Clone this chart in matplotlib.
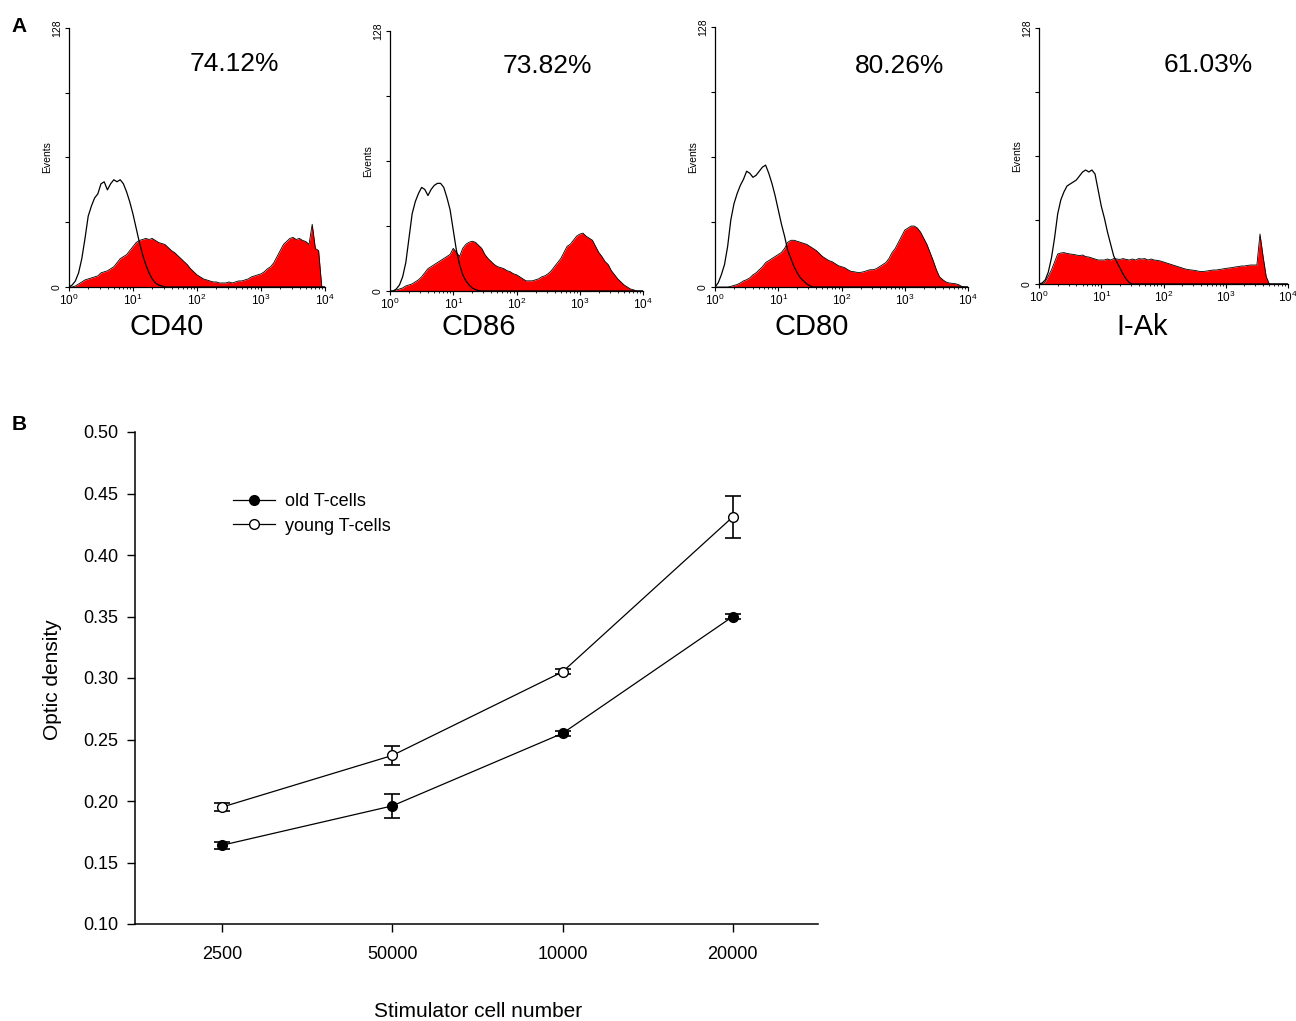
import numpy as np
import matplotlib
matplotlib.use("Agg")
import matplotlib.pyplot as plt
from matplotlib.ticker import LogLocator, NullFormatter

plt.rcParams['font.family'] = ['Liberation Sans', 'DejaVu Sans']
plt.rcParams['mathtext.fontset'] = 'custom'
plt.rcParams['mathtext.rm'] = 'Liberation Sans'

W, H = 1296, 1021

# ---- panel A data: flow histograms, heights read every 0.05 decade from 10^0 to 10^4
markers_a = ["CD40", "CD86", "CD80", "I-Ak"]
percent_a = ["74.12%", "73.82%", "80.26%", "61.03%"]

cd40_ctrl = [0, 1, 3, 7, 14, 24, 35, 40, 44, 46, 51, 52, 48, 51, 53, 52, 53, 51, 47, 42,
             36, 29, 22, 16, 11, 7, 4, 2, 1, 0.5, 0] + [0] * 50
cd40_pos = [0, 0, 0.5, 1.5, 2.5, 3.5, 4, 4.5, 5, 5.5,
            7, 7.5, 8, 9, 10, 12, 14, 15, 16, 18,
            20, 22, 23, 23.5, 24, 23.5, 24, 23, 22, 21.5,
            21, 19.5, 18, 17, 15.5, 14, 12.5, 11, 9, 7.5,
            6, 5, 4, 3.5, 3, 2.5, 2.5, 2, 2, 2,
            2.5, 2, 2.5, 3, 3, 3.5, 4, 5, 5.5, 6,
            6.5, 7.5, 9, 10, 12, 15, 18, 21, 22.5, 24,
            24.5, 23.5, 24, 23, 22.5, 21, 31, 19, 18, 0,
            0]

cd86_ctrl = [0, 0, 1, 3, 7, 14, 26, 38, 44, 48, 51, 50, 47, 50, 52, 53, 53, 51, 46, 40,
             30, 20, 13, 8, 5, 3, 1.5, 0.7, 0.2, 0] + [0] * 51
cd86_pos = [0, 0, 0.5, 1, 1.5, 2.5, 3, 3.5, 4.5, 5.5,
            7, 9, 11, 12, 13, 14, 15, 16, 17, 18,
            21, 19, 17, 21, 23, 24, 24.5, 24, 22.5, 21,
            18, 16, 14.5, 13, 12, 11.5, 11, 10, 9.5, 8.5,
            8, 7, 6, 5, 5, 5, 5.5, 6, 7, 7.5,
            8.5, 10, 12, 14, 16, 19, 22, 23, 25, 27,
            28, 28.5, 27, 26, 25, 22, 19, 17, 14.5, 13,
            10, 8, 6, 4.5, 3, 2, 1, 0.6, 0, 0,
            0]

cd80_ctrl = [0, 2, 6, 11, 20, 33, 41, 46, 50, 53, 57, 56, 54, 55, 57, 59, 60, 56, 51, 45,
             38, 31, 25, 18, 14, 10, 7, 4.5, 3, 1.5, 0.6, 0] + [0] * 49
cd80_pos = [0, 0, 0, 0, 0, 0.3, 0.8, 1.2, 2, 3,
            3.6, 4.5, 6, 7, 8.5, 10, 12, 13, 14, 15,
            16, 17, 19, 22, 23, 23, 22.5, 22, 21.5, 21,
            20, 19, 18, 16.5, 15, 14, 13, 12.5, 11.5, 10.5,
            10, 9.5, 8.5, 7.7, 7.5, 7.2, 7.2, 7.5, 8, 8.5,
            8.5, 9, 10, 11, 12, 14, 17, 19, 22, 25,
            28, 29, 30, 30, 29, 27, 24, 21, 17, 13,
            8.5, 5, 3.6, 2.5, 2, 1.8, 1.6, 1.2, 0.3, 0,
            0]

iak_ctrl = [0, 0.5, 2, 6, 13, 23, 35, 42, 46, 49, 50, 51, 52, 54, 56, 57, 56, 57, 55, 47,
            39, 33, 26, 20, 14, 11, 8, 5, 2.5, 0.7, 0] + [0] * 50
iak_pos = [0, 0, 1, 4, 7, 11, 15, 15.5, 15.7, 15.3,
           15, 14.8, 14.5, 14.2, 14.5, 13.7, 13.5, 13, 12.5, 12,
           12, 12, 12.5, 12, 12.7, 12.5, 12.3, 12.7, 12.3, 12,
           12.5, 12, 12.7, 12.5, 12.7, 12, 12.5, 12, 11.8, 11.5,
           11, 10.5, 10, 9.5, 9, 8.5, 8, 7.5, 7.2, 7,
           6.8, 6.5, 6.2, 6.3, 6.5, 6.8, 7, 7, 7.3, 7.5,
           7.8, 8, 8.2, 8.5, 8.7, 9, 9, 9.3, 9.5, 9.5,
           9.5, 25, 13.7, 3.7, 0, 0, 0, 0, 0, 0,
           0]

ctrl_a = [cd40_ctrl, cd86_ctrl, cd80_ctrl, iak_ctrl]
pos_a = [cd40_pos, cd86_pos, cd80_pos, iak_pos]

# ---- panel B data
cell_numbers = ["2500", "50000", "10000", "20000"]
old_mean = [0.164, 0.196, 0.255, 0.350]
old_err = [0.003, 0.010, 0.002, 0.002]
young_mean = [0.195, 0.237, 0.305, 0.431]
young_err = [0.003, 0.008, 0.002, 0.017]

fig = plt.figure(figsize=(W / 100, H / 100), dpi=100)


def ftext(x, y, s, **kw):
    fig.text(x / W, 1 - y / H, s, **kw)


# pixel boxes of the histogram axes: left, top, right, bottom
boxes = [(69, 28, 325, 287), (390, 31, 643, 291), (715, 27, 968, 287), (1039, 28, 1288, 284)]
pct_pos = [(234, 64), (547, 66), (900, 66), (1208, 65)]
lab_pos = [(167, 327), (479, 327), (812, 327), (1142, 327)]

for k in range(4):
    l, t, r, b = boxes[k]
    ax = fig.add_axes([l / W, 1 - b / H, (r - l) / W, (b - t) / H])
    n = len(pos_a[k])
    xs = 10 ** (np.arange(n) * 0.05)
    ax.fill_between(xs, 0, pos_a[k], color='#ff0000', lw=0)
    ax.plot(xs, pos_a[k], color='black', lw=0.6)
    ax.plot(xs, ctrl_a[k], color='black', lw=0.9)
    ax.set_xscale('log')
    ax.set_xlim(1, 1e4)
    ax.set_ylim(0, 128)
    ax.set_yticks([0, 32, 64, 96, 128])
    ax.set_yticklabels(['0', '', '', '', '128'], rotation=90, va='center', fontsize=7.5)
    ax.xaxis.set_major_locator(LogLocator(base=10, numticks=10))
    ax.xaxis.set_minor_locator(LogLocator(base=10, subs=np.arange(2, 10), numticks=10))
    ax.xaxis.set_minor_formatter(NullFormatter())
    ax.tick_params(axis='x', which='major', labelsize=8.5, length=3, pad=1)
    ax.tick_params(axis='x', which='minor', length=1.5)
    ax.tick_params(axis='y', length=3, pad=2)
    for s in ['top', 'right']:
        ax.spines[s].set_visible(False)
    for s in ['left', 'bottom']:
        ax.spines[s].set_linewidth(0.9)
    ax.set_ylabel('Events', fontsize=7.5)
    ax.yaxis.set_label_coords(-17 / (r - l), 0.5)
    ftext(pct_pos[k][0], pct_pos[k][1], percent_a[k], fontsize=19, ha='center', va='center')
    ftext(lab_pos[k][0], lab_pos[k][1], markers_a[k], fontsize=21, ha='center', va='center')

ftext(19, 27, 'A', fontsize=15, fontweight='bold', ha='center', va='center')
ftext(19, 425, 'B', fontsize=15, fontweight='bold', ha='center', va='center')

# ---- panel B
axb = fig.add_axes([135 / W, 1 - 924 / H, (818 - 135) / W, (924 - 432) / H])
x = np.arange(len(cell_numbers))
axb.errorbar(x, old_mean, yerr=old_err, fmt='none', ecolor='black', elinewidth=1.2, capsize=6, capthick=1.2)
axb.errorbar(x, young_mean, yerr=young_err, fmt='none', ecolor='black', elinewidth=1.2, capsize=6, capthick=1.2)
axb.plot(x, old_mean, '-o', color='black', lw=0.9, ms=7, mfc='black', mec='black', label='old T-cells')
axb.plot(x, young_mean, '-o', color='black', lw=0.9, ms=7, mfc='white', mec='black', mew=1, label='young T-cells')
axb.set_xlim(-0.51, 3.5)
axb.set_ylim(0.10, 0.50)
axb.set_yticks(np.arange(0.10, 0.501, 0.05))
axb.set_yticklabels(['%.2f' % v for v in np.arange(0.10, 0.501, 0.05)])
axb.set_xticks(x)
axb.set_xticklabels(cell_numbers)
axb.tick_params(axis='both', labelsize=13, length=6, width=1)
axb.tick_params(axis='x', pad=10)
axb.tick_params(axis='y', pad=6)
for s in ['top', 'right']:
    axb.spines[s].set_visible(False)
for s in ['left', 'bottom']:
    axb.spines[s].set_linewidth(1.1)
axb.set_ylabel('Optic density', fontsize=15)
axb.yaxis.set_label_coords((62 - 135) / 683, 0.496)
axb.set_xlabel('Stimulator cell number', fontsize=15)
axb.xaxis.set_label_coords(0.502, (924 - 1002) / 492)
axb.legend(loc='upper left', bbox_to_anchor=(0.1435, 0.876), frameon=False, fontsize=13,
           handlelength=2.3, handletextpad=0.6, labelspacing=0.42, borderpad=0, borderaxespad=0)

fig.savefig('out.png', dpi=100)
